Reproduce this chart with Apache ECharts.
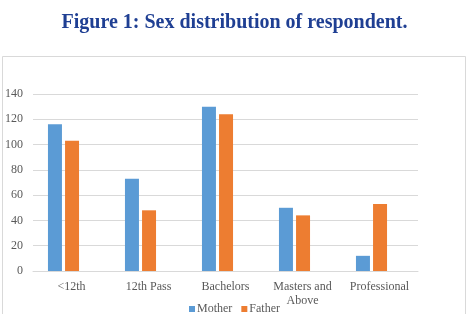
<!DOCTYPE html>
<html><head><meta charset="utf-8">
<script src="https://cdn.jsdelivr.net/npm/echarts@6/dist/echarts.min.js"></script>
<style>html,body{margin:0;padding:0;background:#fff}#c{width:469px;height:314px}</style>
</head><body><div id="c"></div>
<script>
const categories = ['<12th', '12th Pass', 'Bachelors', 'Masters and\nAbove', 'Professional'];
const mother = [116, 73, 130, 50, 12];
const father = [103, 48, 124, 44, 53];
const yMin = 0, yMax = 140, yStep = 20;

const chart = echarts.init(document.getElementById('c'), null, {renderer: 'canvas'});
const serif = '"Liberation Serif", "DejaVu Serif", serif';
chart.setOption({
  animation: false,
  backgroundColor: '#fff',
  title: {
    text: 'Figure 1: Sex distribution of respondent.',
    left: 'center', top: 8,
    textStyle: {fontFamily: serif, fontWeight: 'bold', fontSize: 20, color: '#1f3f93'}
  },
  graphic: [{
    type: 'rect', shape: {x: 2.5, y: 56.5, width: 463, height: 270},
    style: {fill: 'none', stroke: '#d9d9d9', lineWidth: 1}, silent: true, z: -1
  }],
  legend: {
    data: ['Mother', 'Father'], top: 298, left: 'center',
    itemWidth: 6, itemHeight: 6, itemGap: 9, icon: 'rect',
    textStyle: {fontFamily: serif, fontSize: 12, color: '#595959', padding: [0, 0, 0, -3]}
  },
  grid: [
    {left: 33, width: 385, top: 94, height: 177},
    {left: 25, width: 385, top: 94, height: 177}
  ],
  xAxis: [
    {type: 'category', gridIndex: 0, data: categories,
     axisLine: {lineStyle: {color: '#d9d9d9'}}, axisTick: {show: false},
     axisLabel: {fontFamily: serif, fontSize: 12, color: '#595959', margin: 9, lineHeight: 14, interval: 0}},
    {type: 'category', gridIndex: 1, data: categories, show: false}
  ],
  yAxis: [
    {type: 'value', gridIndex: 0, min: yMin, max: yMax, interval: yStep,
     axisLine: {show: false}, axisTick: {show: false},
     splitLine: {lineStyle: {color: '#d9d9d9'}},
     axisLabel: {fontFamily: serif, fontSize: 12, color: '#595959', margin: 10}},
    {type: 'value', gridIndex: 1, min: yMin, max: yMax, interval: yStep, show: false}
  ],
  series: [
    {name: 'Mother', type: 'bar', xAxisIndex: 1, yAxisIndex: 1, data: mother,
     barWidth: 14, barGap: '22%', itemStyle: {color: '#5b9bd5'}},
    {name: 'Father', type: 'bar', xAxisIndex: 1, yAxisIndex: 1, data: father,
     barWidth: 14, barGap: '22%', itemStyle: {color: '#ed7d31'}}
  ]
});
</script></body></html>
